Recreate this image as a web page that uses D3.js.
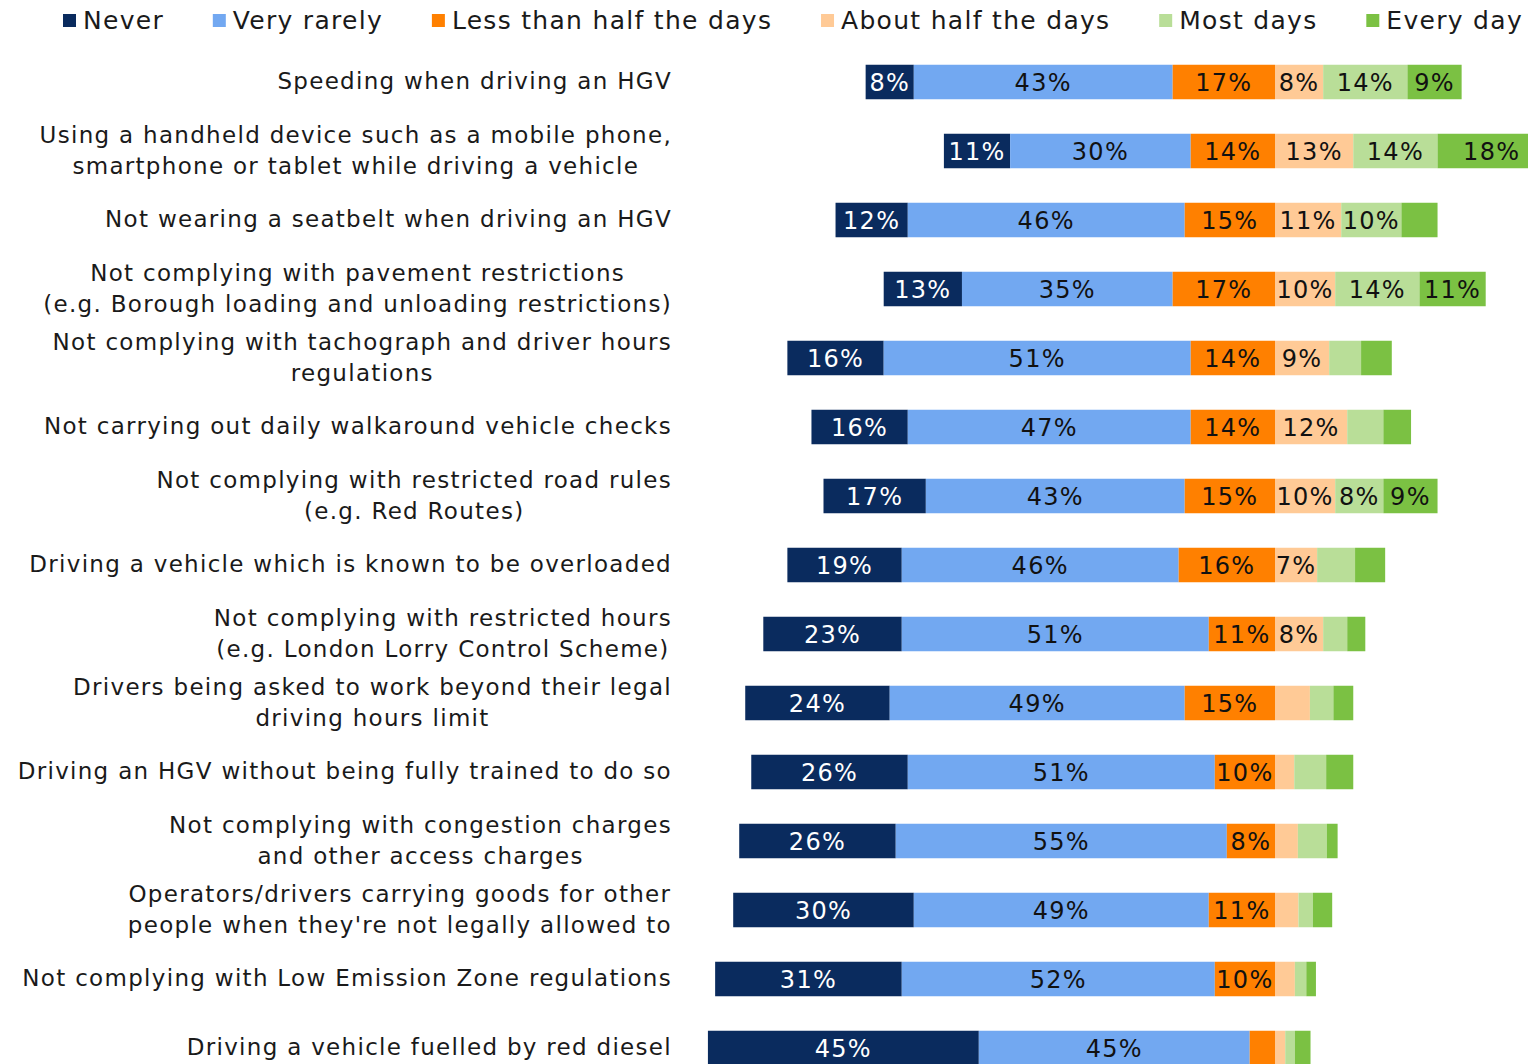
<!DOCTYPE html>
<html>
<head>
<meta charset="utf-8">
<script src="https://cdn.jsdelivr.net/npm/d3@7"></script>
<style>
  html, body { margin: 0; padding: 0; background: #fff; }
  svg { display: block; font-family: "DejaVu Sans", Verdana, sans-serif; }
</style>
</head>
<body>
<svg id="chart" width="1528" height="1064"></svg>
<script>
// Survey items (line breaks mark wrapped labels)
const categories = [
  "Speeding when driving an HGV",
  "Using a handheld device such as a mobile phone,\nsmartphone or tablet while driving a vehicle",
  "Not wearing a seatbelt when driving an HGV",
  "Not complying with pavement restrictions\n(e.g. Borough loading and unloading restrictions)",
  "Not complying with tachograph and driver hours\nregulations",
  "Not carrying out daily walkaround vehicle checks",
  "Not complying with restricted road rules\n(e.g. Red Routes)",
  "Driving a vehicle which is known to be overloaded",
  "Not complying with restricted hours\n(e.g. London Lorry Control Scheme)",
  "Drivers being asked to work beyond their legal\ndriving hours limit",
  "Driving an HGV without being fully trained to do so",
  "Not complying with congestion charges\nand other access charges",
  "Operators/drivers carrying goods for other\npeople when they're not legally allowed to",
  "Not complying with Low Emission Zone regulations",
  "Driving a vehicle fuelled by red diesel"
];

const seriesNames = ["Never", "Very rarely", "Less than half the days", "About half the days", "Most days", "Every day"];

// Percentages per response, one value per item above
const never        = [8, 11, 12, 13, 16, 16, 17, 19, 23, 24, 26, 26, 30, 31, 45];
const veryRarely   = [43, 30, 46, 35, 51, 47, 43, 46, 51, 49, 51, 55, 49, 52, 45];
const lessThanHalf = [17, 14, 15, 17, 14, 14, 15, 16, 11, 15, 10, 8, 11, 10, 4.2];
const aboutHalf    = [8, 13, 11, 10, 9, 12, 10, 7, 8, 5.8, 3.2, 3.8, 3.9, 3.3, 1.7];
const mostDays     = [14, 14, 10, 14, 5.3, 6, 8, 6.3, 4, 3.9, 5.3, 4.8, 2.4, 1.9, 1.6];
const everyDay     = [9, 18, 6, 11, 5.1, 4.6, 9, 5, 3, 3.3, 4.5, 1.8, 3.2, 1.6, 2.6];

const seriesValues = [never, veryRarely, lessThanHalf, aboutHalf, mostDays, everyDay];
const colors = ["#0a2b5e", "#72a8f1", "#ff8000", "#ffca96", "#b9de98", "#7bc143"];
const labelColors = ["#ffffff", "#111111", "#111111", "#111111", "#111111", "#111111"];
const negativeCount = 3; // first three responses stack to the left of the midpoint

const svg = d3.select("#chart");
const labelFont = 23, valueFont = 24, legendFont = 25, tracking = 1.3;

// Scales: bars diverge from 0 (between "Less than half" and "About half")
const x = d3.scaleLinear().domain([-100, 100]).range([1275 - 602, 1275 + 602]);
const y = d3.scaleBand().domain(categories).range([47.5, 1082.5]).paddingInner(0.5).paddingOuter(0.25);

// Build stacked segments for each row
const rows = categories.map((cat, i) => {
  const vals = seriesValues.map(s => s[i]);
  const leftTotal = d3.sum(vals.slice(0, negativeCount));
  let cursor = -leftTotal;
  const segs = vals.map((v, k) => {
    const seg = { cat, k, v, x0: cursor, x1: cursor + v };
    cursor += v;
    return seg;
  });
  return { cat, segs };
});

const gRows = svg.append("g").selectAll("g").data(rows).join("g");

gRows.selectAll("rect").data(d => d.segs).join("rect")
  .attr("x", d => x(d.x0))
  .attr("y", d => y(d.cat))
  .attr("width", d => x(d.x1) - x(d.x0))
  .attr("height", y.bandwidth())
  .attr("fill", d => colors[d.k]);

gRows.selectAll("text.val").data(d => d.segs.filter(s => s.v >= 7)).join("text")
  .attr("class", "val")
  .attr("x", d => (x(d.x0) + x(d.x1)) / 2)
  .attr("y", d => y(d.cat) + y.bandwidth() / 2)
  .attr("dy", "0.36em")
  .attr("text-anchor", "middle")
  .attr("font-size", valueFont)
  .attr("letter-spacing", tracking)
  .attr("fill", d => labelColors[d.k])
  .text(d => d3.format("d")(d.v) + "%");

// Category labels: wrapped lines centred on each other, block right-aligned to the axis
const labelRight = 672;
const lineHeight = 31;
const gLabels = svg.append("g");
categories.forEach(cat => {
  const lines = cat.split("\n");
  const cy = y(cat) + y.bandwidth() / 2;
  const t = gLabels.append("text")
    .attr("font-size", labelFont)
    .attr("letter-spacing", tracking)
    .attr("fill", "#1a1a1a")
    .attr("text-anchor", "middle");
  const spans = lines.map((ln, j) => t.append("tspan")
    .attr("y", cy + (j - (lines.length - 1) / 2) * lineHeight - 1)
    .attr("dy", "0.36em")
    .text(ln));
  const maxW = d3.max(spans, s => s.node().getComputedTextLength());
  spans.forEach(s => s.attr("x", labelRight - maxW / 2));
});

// Legend across the top
const legendLeft = 63, legendRight = 1523, sw = 13, swGap = 7;
const gLeg = svg.append("g");
const items = seriesNames.map((name, k) => {
  const g = gLeg.append("g");
  g.append("rect").attr("width", sw).attr("height", sw).attr("y", 14).attr("fill", colors[k]);
  const t = g.append("text").attr("x", sw + swGap).attr("y", 20).attr("dy", "0.36em")
    .attr("font-size", legendFont).attr("letter-spacing", tracking)
    .attr("fill", "#1a1a1a").text(name);
  return { g, w: sw + swGap + t.node().getComputedTextLength() };
});
const totalW = d3.sum(items, d => d.w);
const gap = (legendRight - legendLeft - totalW) / (items.length - 1);
let lx = legendLeft;
items.forEach(it => { it.g.attr("transform", `translate(${lx},0)`); lx += it.w + gap; });
</script>
</body>
</html>
